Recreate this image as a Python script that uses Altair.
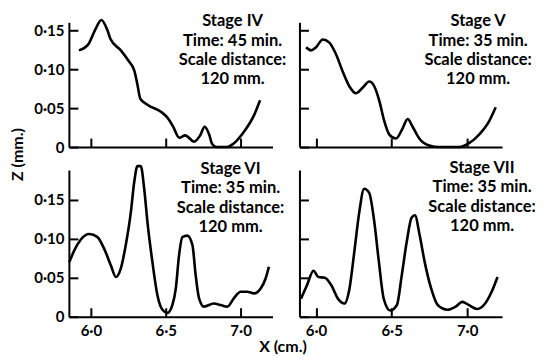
import altair as alt
import pandas as pd

# ---- data ----
s4_x = [5.92, 5.98, 6.03, 6.07, 6.11, 6.13, 6.20, 6.25, 6.29, 6.31, 6.33, 6.38, 6.47, 6.51, 6.55,
        6.59, 6.63, 6.69, 6.73, 6.76, 6.79, 6.81, 6.84, 6.91, 6.95, 7.02, 7.09, 7.13]
s4_z = [0.124, 0.131, 0.151, 0.163, 0.150, 0.139, 0.124, 0.111, 0.098, 0.081, 0.062, 0.054, 0.045, 0.038, 0.026,
        0.012, 0.015, 0.007, 0.015, 0.026, 0.016, 0.004, 0.0, 0.0, 0.004, 0.019, 0.041, 0.060]

s5_x = [5.934, 5.967, 6.0, 6.044, 6.088, 6.132, 6.176, 6.22, 6.264, 6.308, 6.352, 6.385, 6.419, 6.452,
        6.485, 6.529, 6.573, 6.606, 6.639, 6.683, 6.749, 6.815, 6.947, 7.013, 7.079, 7.145, 7.189]
s5_z = [0.128, 0.124, 0.128, 0.138, 0.134, 0.119, 0.097, 0.078, 0.069, 0.076, 0.084, 0.078, 0.059, 0.033,
        0.016, 0.011, 0.024, 0.036, 0.026, 0.011, 0.002, 0.0, 0.0, 0.005, 0.016, 0.033, 0.051]

s6_x = [5.856, 5.889, 5.933, 5.989, 6.044, 6.089, 6.133, 6.167, 6.2, 6.233, 6.267, 6.289, 6.311, 6.333,
        6.356, 6.378, 6.411, 6.444, 6.478, 6.511, 6.544, 6.567, 6.589, 6.611, 6.644, 6.678, 6.7, 6.722,
        6.756, 6.822, 6.867, 6.911, 6.956, 7.0, 7.044, 7.089, 7.133, 7.167, 7.189]
s6_z = [0.070, 0.085, 0.099, 0.106, 0.102, 0.087, 0.066, 0.051, 0.062, 0.092, 0.134, 0.172, 0.193, 0.193,
        0.164, 0.121, 0.070, 0.028, 0.009, 0.005, 0.015, 0.036, 0.079, 0.102, 0.104, 0.092, 0.053, 0.024,
        0.013, 0.017, 0.015, 0.013, 0.024, 0.032, 0.032, 0.030, 0.036, 0.049, 0.064]

s7_x = [5.90, 5.939, 5.983, 6.015, 6.058, 6.102, 6.145, 6.188, 6.221, 6.253, 6.286, 6.318, 6.351, 6.383,
        6.416, 6.448, 6.491, 6.535, 6.567, 6.6, 6.632, 6.654, 6.686, 6.719, 6.762, 6.805, 6.87, 6.924,
        6.968, 7.011, 7.065, 7.119, 7.162, 7.201]
s7_z = [0.023, 0.040, 0.059, 0.051, 0.050, 0.040, 0.023, 0.017, 0.036, 0.083, 0.134, 0.164, 0.159, 0.125,
        0.070, 0.023, 0.008, 0.015, 0.053, 0.096, 0.127, 0.130, 0.104, 0.070, 0.036, 0.015, 0.009, 0.013,
        0.019, 0.015, 0.010, 0.017, 0.032, 0.051]

x_ticks = [6.0, 6.5, 7.0]
x_tick_labels = ["6·0", "6·5", "7·0"]
y_ticks = [0, 0.05, 0.10, 0.15]
y_tick_labels = ["0", "0·05", "0·10", "0·15"]

stage_names = ["Stage IV", "Stage V", "Stage VI", "Stage VII"]
stage_times = ["Time: 45 min.", "Time: 35 min.", "Time: 35 min.", "Time: 35 min."]
scale_line = "Scale distance:"
dist_line = "120 mm."

FONT = "Lato"

def lab_expr(labels, start, step):
    arr = "[" + ",".join("'" + l + "'" for l in labels) + "]"
    return f"{arr}[round((datum.value - {start}) / {step})]"

x_expr = lab_expr(x_tick_labels, x_ticks[0], x_ticks[1] - x_ticks[0])
y_expr = lab_expr(y_tick_labels, y_ticks[0], y_ticks[1] - y_ticks[0])

def panel(xs, zs, idx, xdom, ydom, w, h, xlabels, ylabels, tx, ty, xtitle=None, ytitle=None):
    df = pd.DataFrame({"x": xs, "z": zs})
    xa = dict(values=x_ticks, labels=xlabels, labelExpr=x_expr, tickSize=alt.ExprRef(expr="-9"),
              labelPadding=16)
    ya = dict(values=y_ticks, labels=ylabels, labelExpr=y_expr, tickSize=alt.ExprRef(expr="-9"),
              labelPadding=14)
    if xtitle:
        xa.update(title=xtitle, titleX=214, titleY=30, titleAlign="center", titleBaseline="middle")
    else:
        xa.update(title=None)
    if ytitle:
        ya.update(title=ytitle, titleX=-51, titleY=132, titleAngle=270, titleAlign="center",
                  titleBaseline="middle")
    else:
        ya.update(title=None)
    line = alt.Chart(df).mark_line(color="black", strokeWidth=2.6, interpolate="monotone").encode(
        x=alt.X("x:Q", scale=alt.Scale(domain=xdom, nice=False, zero=False), axis=alt.Axis(**xa)),
        y=alt.Y("z:Q", scale=alt.Scale(domain=ydom, nice=False), axis=alt.Axis(**ya)),
    )
    txt = "\n".join([stage_names[idx], stage_times[idx], scale_line, dist_line])
    tdf = pd.DataFrame({"t": [txt]})
    text = alt.Chart(tdf).mark_text(
        font=FONT, fontSize=16.5, fontWeight="bold", color="black", align="center", baseline="top",
        lineBreak="\n", lineHeight=19.4
    ).encode(text="t:N", x=alt.value(tx), y=alt.value(ty))
    return alt.layer(line, text).properties(width=w, height=h)

left_dom = [5.853, 7.213]
right_dom = [5.890, 7.231]

p4 = panel(s4_x, s4_z, 0, left_dom, [0, 0.16], 204, 125, False, True, 164, -9, ytitle="Z (mm.)")
p5 = panel(s5_x, s5_z, 1, right_dom, [0, 0.16], 203, 125, False, False, 179, -9)
p6 = panel(s6_x, s6_z, 2, left_dom, [0, 0.188], 204, 147, True, True, 162, -9, xtitle="X (cm.)")
p7 = panel(s7_x, s7_z, 3, right_dom, [0, 0.188], 203, 147, True, False, 183, -10)

chart = alt.concat(p4, p5, p6, p7, columns=2, spacing={"row": 23, "column": 27}, bounds="flush").properties(
    padding={"left": 2, "top": 5, "right": 0, "bottom": 0}
).configure_view(stroke=None).configure_axis(
    grid=False, domainColor="black", domainWidth=2, tickColor="black", tickWidth=2,
    labelFont=FONT, labelFontSize=15, labelFontWeight="bold", labelColor="black",
    titleFont=FONT, titleFontSize=16, titleFontWeight="bold", titleColor="black",
)

chart.save("out.html", embed_options={"renderer": "svg", "actions": False})
